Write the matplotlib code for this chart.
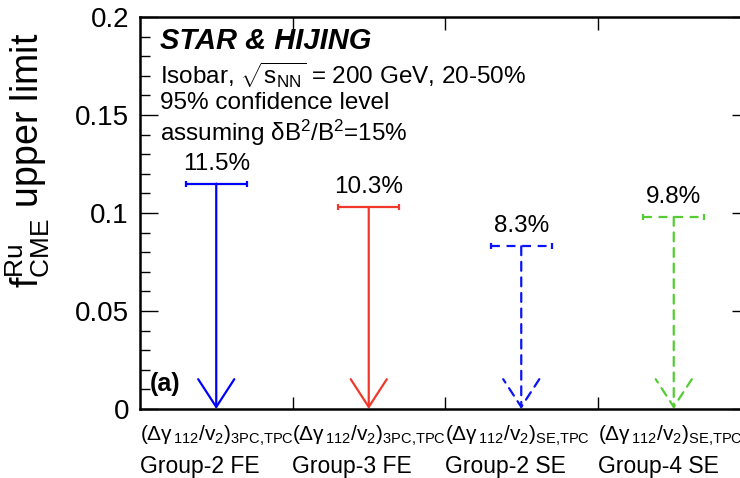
import matplotlib
matplotlib.use("Agg")
import matplotlib.pyplot as plt
from matplotlib.transforms import blended_transform_factory

plt.rcParams['font.family'] = ['Liberation Sans', 'DejaVu Sans']
plt.rcParams['mathtext.fontset'] = 'custom'
plt.rcParams['mathtext.rm'] = 'Liberation Sans'
plt.rcParams['mathtext.it'] = 'Liberation Sans:italic'
plt.rcParams['mathtext.bf'] = 'Liberation Sans:bold'

# ---- data ----
positions = [0.5, 1.5, 2.5, 3.5]
upper_limits = [0.115, 0.103, 0.083, 0.098]
value_labels = ["11.5%", "10.3%", "8.3%", "9.8%"]
method_labels = [r"$\mathregular{(\Delta\gamma_{\,112}/v_{2})_{3PC{,}TPC}}$",
                 r"$\mathregular{(\Delta\gamma_{\,112}/v_{2})_{3PC{,}TPC}}$",
                 r"$\mathregular{(\Delta\gamma_{\,112}/v_{2})_{SE{,}TPC}}$",
                 r"$\mathregular{(\Delta\gamma_{\,112}/v_{2})_{SE{,}TPC}}$"]
group_labels = ["Group-2 FE", "Group-3 FE", "Group-2 SE", "Group-4 SE"]
colors = ["#0000ff", "#f0392b", "#0a14f5", "#55cc33"]
styles = ["-", "-", (0, (4, 3)), (0, (4, 3))]

W, H = 740, 478
fig = plt.figure(figsize=(W / 100, H / 100), dpi=100)
ax = fig.add_axes([140 / W, (H - 409) / H, 610 / W, (409 - 17) / H])
ax.set_xlim(0, 4)
ax.set_ylim(0, 0.2)

for x, v, lab, c, ls in zip(positions, upper_limits, value_labels, colors, styles):
    ax.annotate('', xy=(x, 0), xytext=(x, v),
                arrowprops=dict(arrowstyle='->,head_length=20,head_width=13',
                                mutation_scale=1, lw=1.6, color=c, linestyle=ls,
                                shrinkA=0, shrinkB=0), annotation_clip=False)
    ax.plot([x - 0.2, x + 0.2], [v, v], color=c, lw=1.6, linestyle=ls,
            solid_capstyle='butt')
    ax.plot([x - 0.2, x + 0.2], [v, v], linestyle='none', marker='|',
            markersize=5, mew=1.6, color=c)
    ax.annotate(lab, xy=(x, v), xytext=(0, 10), textcoords='offset points',
                ha='center', va='baseline', fontsize=17.5)

# axes styling
for s in ax.spines.values():
    s.set_linewidth(1.8)
ax.set_xticks([1, 2, 3])
ax.set_xticklabels([])
ax.tick_params(axis='x', which='both', direction='in', top=True, bottom=True,
               length=9, width=1.0)
ax.set_yticks([0, 0.05, 0.1, 0.15, 0.2])
ax.set_yticklabels(["0", "0.05", "0.1", "0.15", "0.2"])
ax.set_yticks([i * 0.01 for i in range(21)], minor=True)
ax.tick_params(axis='y', which='major', direction='in', left=True, right=True,
               length=13, width=1.0, labelsize=20, pad=8)
ax.tick_params(axis='y', which='minor', direction='in', left=True, right=True,
               length=7, width=1.0)

ax.set_ylabel(r"$\mathregular{f^{Ru}_{CME}}$ upper limit", fontsize=27, labelpad=6)
ax.yaxis.set_label_coords(-0.145, 0.635)

# category labels
trans = blended_transform_factory(ax.transData, fig.transFigure)
for i, (m, g) in enumerate(zip(method_labels, group_labels)):
    ax.text(i + 0.0, (H - 436) / H, m, transform=trans, ha='left', va='center',
            fontsize=15)
    ax.text(i + 0.0, (H - 466) / H, g, transform=trans, ha='left', va='center',
            fontsize=16.5)

# info text
ax.text(0.13, 0.188, "STAR & HIJING", fontsize=21, fontweight='bold',
        fontstyle='italic', va='center', ha='left')
ax.text(0.13, 0.1704, r"Isobar, $\mathregular{\sqrt{s_{NN}}}$ = 200 GeV, 20-50%",
        fontsize=17.5, va='center', ha='left')
ax.text(0.13, 0.156, "95% confidence level", fontsize=17.5, va='center', ha='left')
ax.text(0.13, 0.1408, r"assuming $\mathregular{\delta B^{2}/B^{2}}$=15%",
        fontsize=17.5, va='center', ha='left')
ax.text(0.065, 0.013, "(a)", fontsize=18, fontweight='bold', va='center', ha='left')

fig.savefig("out.png", dpi=100)
